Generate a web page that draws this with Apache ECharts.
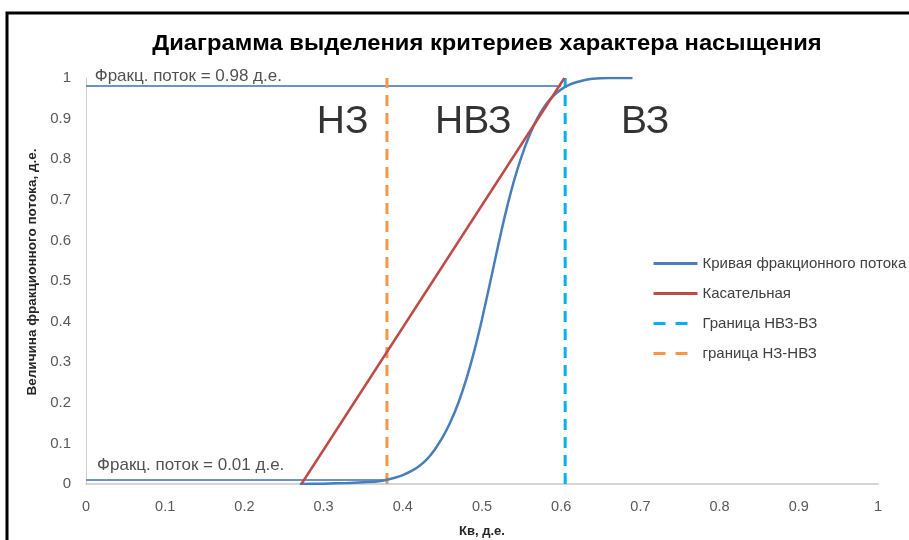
<!DOCTYPE html>
<html><head><meta charset="utf-8">
<script src="https://cdn.jsdelivr.net/npm/echarts@6.0.0/dist/echarts.min.js"></script>
<style>html,body{margin:0;padding:0;background:#fff;overflow:hidden}#c{width:909px;height:540px}</style>
</head><body><div id="c"></div>
<script>
// Fractional flow curve (Кв, fw)
const curveX = [0.27, 0.30, 0.33, 0.35, 0.37, 0.38, 0.39, 0.40, 0.41, 0.42, 0.43, 0.44, 0.45, 0.46, 0.47, 0.48, 0.49, 0.50, 0.51, 0.52, 0.53, 0.54, 0.55, 0.56, 0.57, 0.58, 0.59, 0.60, 0.61, 0.62, 0.63, 0.64, 0.65, 0.66, 0.69];
const curveY = [0.0, 0.0008, 0.0025, 0.0045, 0.007, 0.0105, 0.0155, 0.022, 0.031, 0.043, 0.060, 0.084, 0.114, 0.152, 0.199, 0.257, 0.326, 0.406, 0.494, 0.584, 0.669, 0.744, 0.807, 0.859, 0.901, 0.933, 0.956, 0.972, 0.983, 0.990, 0.995, 0.998, 0.9995, 1.0, 1.0];
// Tangent line
const tangentX = [0.272, 0.604];
const tangentY = [0.0, 1.0];
// Boundaries
const boundNVZ_VZ = 0.605;
const boundNZ_NVZ = 0.38;
// Horizontal levels
const levelHigh = 0.98, levelHighEnd = 0.60;
const levelLow = 0.01, levelLowEnd = 0.38;
// Zone labels
const zoneNames = ['НЗ', 'НВЗ', 'ВЗ'];
const zoneX = [0.324, 0.489, 0.706];
const zoneY = 0.892;
// Level annotations
const noteTexts = ['Фракц. поток = 0.98 д.е.', 'Фракц. поток = 0.01 д.е.'];
const noteX = [0.011, 0.014];
const noteY = [1.003, 0.045];
// Tick step
const tickStep = 0.1;

const legendNames = ['Кривая фракционного потока', 'Касательная', 'Граница НВЗ-ВЗ', 'граница НЗ-НВЗ'];
const FONT = 'Liberation Sans';

const chart = echarts.init(document.getElementById('c'), null, {renderer: 'canvas'});
const zip = (xs, ys) => xs.map((x, i) => [x, ys[i]]);

chart.setOption({
  animation: false,
  backgroundColor: '#fff',
  textStyle: {fontFamily: FONT},
  grid: {left: 86, right: 31, top: 78, bottom: 56, containLabel: false, outerBoundsMode: 'none'},
  legend: {
    orient: 'vertical', left: 652, top: 256, padding: 0,
    itemWidth: 44, itemHeight: 16, itemGap: 15,
    itemStyle: {opacity: 0},
    data: [
      {name: legendNames[0], lineStyle: {width: 3}},
      {name: legendNames[1], lineStyle: {width: 3}},
      {name: legendNames[2], lineStyle: {type: [12, 10], width: 3}},
      {name: legendNames[3], lineStyle: {type: [12, 10], width: 3}}
    ],
    textStyle: {fontSize: 15, color: '#404040', fontFamily: FONT}
  },
  xAxis: {
    type: 'value', min: 0, max: 1, interval: tickStep,
    name: 'Кв, д.е.', nameLocation: 'middle', nameGap: 41,
    nameTextStyle: {fontSize: 13, fontWeight: 'bold', color: '#262626', fontFamily: FONT},
    axisLine: {show: true, lineStyle: {color: '#c8c8c8', width: 1.5}},
    axisTick: {show: false},
    splitLine: {show: false},
    axisLabel: {fontSize: 14.5, color: '#595959', margin: 15, fontFamily: FONT}
  },
  yAxis: {
    type: 'value', min: 0, max: 1, interval: tickStep,
    name: 'Величина фракционного потока, д.е.', nameLocation: 'middle', nameGap: 46,
    nameTextStyle: {fontSize: 13.5, fontWeight: 'bold', color: '#262626', fontFamily: FONT, padding: [0, 0, 0, 18]},
    axisLine: {show: true, lineStyle: {color: '#d0d0d0', width: 1}},
    axisTick: {show: false},
    splitLine: {show: false},
    axisLabel: {fontSize: 15, color: '#595959', margin: 15, fontFamily: FONT}
  },
  graphic: [
    {type: 'text', x: 487, y: 44, scaleX: 1.08, style: {text: 'Диаграмма выделения критериев характера насыщения', align: 'center', verticalAlign: 'middle', fontSize: 22, fontWeight: 'bold', fill: '#000', fontFamily: FONT}, z: 10},
    {type: 'rect', shape: {x: 7, y: 13, width: 905, height: 530}, style: {fill: 'none', stroke: '#000', lineWidth: 3}, z: 20}
  ],
  series: [
    {
      name: 'level-high', type: 'line', data: [[0, levelHigh], [levelHighEnd, levelHigh]],
      symbol: 'none', lineStyle: {color: '#6c93c8', width: 2}, silent: true, z: 1
    },
    {
      name: 'level-low', type: 'line', data: [[0, levelLow], [levelLowEnd, levelLow]],
      symbol: 'none', lineStyle: {color: '#6c93c8', width: 2}, silent: true, z: 1
    },
    {
      name: legendNames[0], type: 'line', data: zip(curveX, curveY), smooth: 0.3,
      symbol: 'none', lineStyle: {color: '#4a7ebb', width: 2.5}, itemStyle: {color: '#4a7ebb'}, z: 3
    },
    {
      name: legendNames[1], type: 'line', data: zip(tangentX, tangentY),
      symbol: 'none', lineStyle: {color: '#be4b48', width: 2.5}, itemStyle: {color: '#be4b48'}, z: 4
    },
    {
      name: legendNames[2], type: 'line', data: [[boundNVZ_VZ, 0], [boundNVZ_VZ, 1]],
      symbol: 'none', lineStyle: {color: '#00b0f0', width: 3, type: [11, 7]}, itemStyle: {color: '#00b0f0'}, z: 2
    },
    {
      name: legendNames[3], type: 'line', data: [[boundNZ_NVZ, 0], [boundNZ_NVZ, 1]],
      symbol: 'none', lineStyle: {color: '#f79646', width: 3, type: [11, 7]}, itemStyle: {color: '#f79646'}, z: 2
    },
    {
      name: 'zones', type: 'scatter', symbolSize: 0, silent: true, z: 5, clip: false,
      data: zoneNames.map((n, i) => ({name: n, value: [zoneX[i], zoneY]})),
      label: {show: true, position: 'inside', formatter: p => p.name, fontSize: 39, color: '#000', fontFamily: FONT}
    },
    {
      name: 'notes', type: 'scatter', symbolSize: 0, silent: true, z: 5, clip: false,
      data: noteTexts.map((n, i) => ({name: n, value: [noteX[i], noteY[i]]})),
      label: {show: true, position: 'inside', align: 'left', formatter: p => p.name, fontSize: 17, color: '#262626', fontFamily: FONT}
    }
  ]
});
</script></body></html>
